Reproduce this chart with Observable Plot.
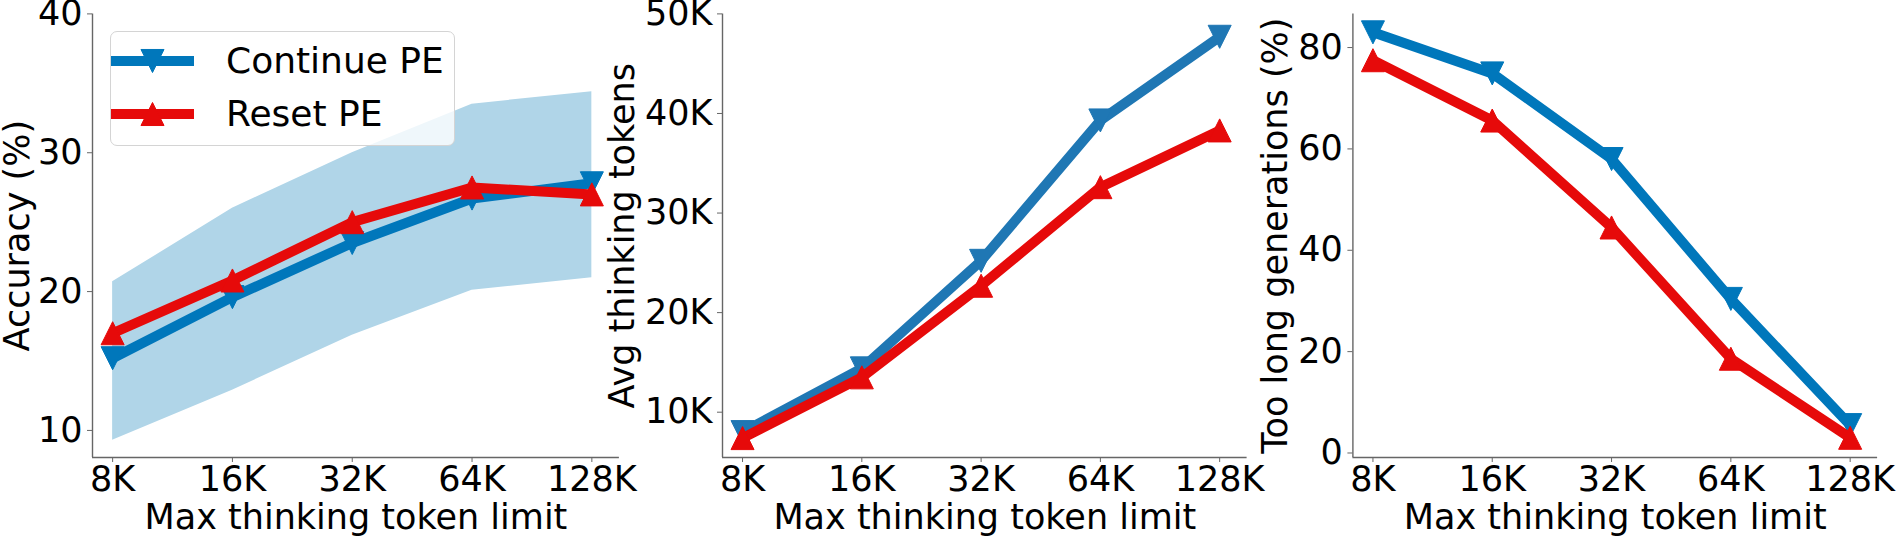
<!DOCTYPE html>
<html>
<head>
<meta charset="utf-8">
<script src="https://cdn.jsdelivr.net/npm/d3@7"></script>
<script src="https://cdn.jsdelivr.net/npm/@observablehq/plot@0.6"></script>
<style>
  html, body { margin: 0; padding: 0; background: #fff; }
  #wrap { position: relative; width: 1897px; height: 538px; overflow: hidden; font-family: "DejaVu Sans", sans-serif; }
  #wrap svg { position: absolute; left: 0; top: 0; }
  .legend { position: absolute; left: 110px; top: 31px; width: 345px; height: 115px; box-sizing: border-box;
    border: 1.3px solid #d4d4d4; border-radius: 7px; background: rgba(255,255,255,0.8); }
  .row { position: absolute; left: 0; height: 40px; }
  .row span { position: absolute; left: 115px; top: 0; font-size: 36px; line-height: 40px; white-space: nowrap; color: #000; }
  .row svg { position: absolute !important; left: 9px; top: 0; }
</style>
</head>
<body>
<div id="wrap"></div>
<script>
// ---- data ----
const limits = ["8K", "16K", "32K", "64K", "128K"];
const seriesNames = ["Continue PE", "Reset PE"];
const accContinue = [15.2, 19.6, 23.5, 26.7, 27.8];
const accReset = [17.0, 20.8, 25.0, 27.5, 27.0];
const accBandLow = [9.3, 12.9, 16.85, 20.1, 21.0];
const accBandHigh = [20.7, 26.0, 30.0, 33.5, 34.4];
const tokContinue = [8000, 14400, 25200, 39300, 47700];
const tokReset = [7400, 13500, 22700, 32600, 38300];
const tooLongContinue = [83.0, 74.9, 58.0, 30.4, 5.5];
const tooLongReset = [77.5, 65.6, 44.5, 18.6, 3.0];
const accTicks = [10, 20, 30, 40];
const tokTicks = [10000, 20000, 30000, 40000, 50000];
const tooLongTicks = [0, 20, 40, 60, 80];

const BLUE = "#0077bb", BLUE2 = "#1f77b4", RED = "#e60a0a", BAND = "#b0d5e8", SPINE = "#666";
const W = 1897, H = 538;
const idx = limits.map((_, i) => i);

const triUp = {draw(ctx, size) { const h = Math.sqrt(size) / 2; ctx.moveTo(0, -h); ctx.lineTo(h, h); ctx.lineTo(-h, h); ctx.closePath(); }};
const triDown = {draw(ctx, size) { const h = Math.sqrt(size) / 2; ctx.moveTo(0, h); ctx.lineTo(h, -h); ctx.lineTo(-h, -h); ctx.closePath(); }};

function panel({left, right, yDomain, yTicks, yFormat, yLabel, yLabelOffset, cont, reset, blue, band}) {
  const xDomain = [-0.168, 4.23];
  const marks = [];
  if (band) marks.push(Plot.areaY(idx, {x: i => i, y1: i => band[0][i], y2: i => band[1][i], fill: BAND}));
  marks.push(
    Plot.line(idx, {x: i => i, y: i => cont[i], stroke: blue, strokeWidth: 10, strokeLinejoin: "round"}),
    Plot.dot(idx, {x: i => i, y: i => cont[i], symbol: triDown, r: 13, fill: blue, stroke: blue, strokeWidth: 1}),
    Plot.line(idx, {x: i => i, y: i => reset[i], stroke: RED, strokeWidth: 10, strokeLinejoin: "round"}),
    Plot.dot(idx, {x: i => i, y: i => reset[i], symbol: triUp, r: 13, fill: RED, stroke: RED, strokeWidth: 1}),
    Plot.ruleX([xDomain[0]], {stroke: SPINE, strokeWidth: 1.4}),
    Plot.ruleY([yDomain[0]], {stroke: SPINE, strokeWidth: 1.4}),
    Plot.axisX({ticks: idx, tickFormat: i => limits[i], tickSize: 5, tickPadding: 4, stroke: SPINE, fontSize: 35,
      label: "Max thinking token limit", labelAnchor: "center", labelArrow: "none", labelOffset: 71}),
    Plot.axisY({ticks: yTicks, tickFormat: yFormat, tickSize: 5, tickPadding: 5, stroke: SPINE, fontSize: 35,
      label: yLabel, labelAnchor: "center", labelArrow: "none", labelOffset: yLabelOffset})
  );
  return Plot.plot({
    width: W, height: H,
    marginLeft: left, marginRight: W - right, marginTop: 13.4, marginBottom: 81,
    x: {type: "linear", domain: xDomain, axis: null},
    y: {type: "linear", domain: yDomain, axis: null},
    style: {fontFamily: "DejaVu Sans", fontSize: "35px", color: "#000", background: "transparent", overflow: "visible", maxWidth: "none"},
    marks
  });
}

const wrap = document.getElementById("wrap");
wrap.appendChild(panel({left: 92, right: 618.9, yDomain: [8.05, 40], yTicks: accTicks, yFormat: d => String(d),
  yLabel: "Accuracy (%)", yLabelOffset: 88.5, cont: accContinue, reset: accReset, blue: BLUE, band: [accBandLow, accBandHigh]}));
wrap.appendChild(panel({left: 722, right: 1246.6, yDomain: [5450, 50000], yTicks: tokTicks, yFormat: d => d / 1000 + "K",
  yLabel: "Avg thinking tokens", yLabelOffset: 113.3, cont: tokContinue, reset: tokReset, blue: BLUE2}));
wrap.appendChild(panel({left: 1352.4, right: 1877.1, yDomain: [-0.89, 86.64], yTicks: tooLongTicks, yFormat: d => String(d),
  yLabel: "Too long generations (%)", yLabelOffset: 90.7, cont: tooLongContinue, reset: tooLongReset, blue: BLUE}));

// legend
const legend = document.createElement("div");
legend.className = "legend";
const rows = [[seriesNames[0], BLUE, triDown, 9], [seriesNames[1], RED, triUp, 62]];
for (const [name, color, sym, top] of rows) {
  const row = document.createElement("div");
  row.className = "row";
  row.style.top = top + "px";
  const ns = "http://www.w3.org/2000/svg";
  const s = document.createElementNS(ns, "svg");
  s.setAttribute("width", 84); s.setAttribute("height", 40);
  const ln = document.createElementNS(ns, "line");
  ln.setAttribute("x1", 0); ln.setAttribute("x2", 83); ln.setAttribute("y1", 20); ln.setAttribute("y2", 20);
  ln.setAttribute("stroke", color); ln.setAttribute("stroke-width", 10);
  s.appendChild(ln);
  const p = d3.path(); sym.draw(p, 13 * 13 * Math.PI);
  const pe = document.createElementNS(ns, "path");
  pe.setAttribute("d", p.toString()); pe.setAttribute("transform", "translate(41.5,20)");
  pe.setAttribute("fill", color); pe.setAttribute("stroke", color);
  s.appendChild(pe);
  row.appendChild(s);
  const t = document.createElement("span");
  t.textContent = name;
  row.appendChild(t);
  legend.appendChild(row);
}
wrap.appendChild(legend);
</script>
</body>
</html>
